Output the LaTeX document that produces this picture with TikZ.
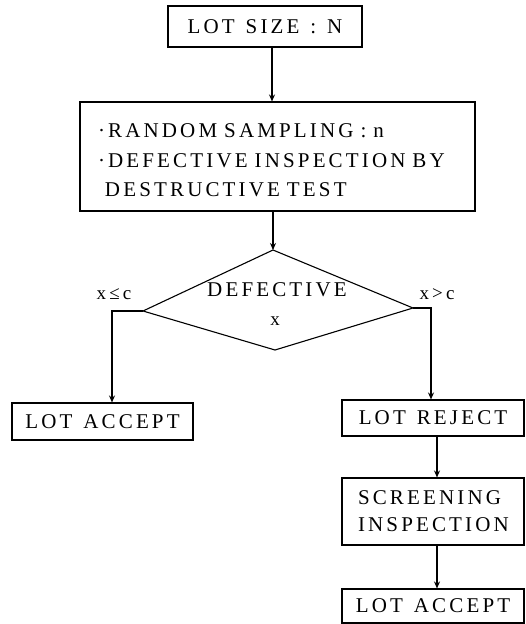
\documentclass[tikz,border=0pt]{standalone}
\usepackage{fontspec}
\setmainfont{Liberation Serif}[LetterSpace=15,WordSpace=1.3]
\usetikzlibrary{arrows.meta}
\begin{document}
\begin{tikzpicture}[x=1pt,y=-1pt,
  box/.style={draw, line width=1.1pt, inner sep=0pt, font=\fontsize{21}{29}\selectfont},
  lbl/.style={inner sep=0pt, font=\fontsize{19}{22}\selectfont},
  conn/.style={line width=1.1pt, -{Stealth[length=7pt,width=6pt]}}]
\useasboundingbox (0,0) rectangle (525,624);
\node[box, minimum width=194pt, minimum height=41pt] (size) at (265,26.5) {LOT SIZE : N};
\node[box, minimum width=395pt, minimum height=109pt] (samp) at (277.5,156.5) {};
\node[inner sep=0pt, text width=359pt, align=left, font=\fontsize{21}{29.5}\selectfont] (samptxt) at ([yshift=-4pt]samp.center)
  {·RANDOM SAMPLING : n\\ ·DEFECTIVE INSPECTION BY\\ \hphantom{·}DESTRUCTIVE TEST};
% decision diamond
\coordinate (dt) at (273,250);
\coordinate (dl) at (143,311);
\coordinate (dr) at (413,308);
\coordinate (db) at (275,350);
\draw[line width=1.1pt] (dt) -- (dr) -- (db) -- (dl) -- cycle;
\node[inner sep=0pt, font=\fontsize{21}{24}\selectfont] (dtxt) at (277,290) {DEFECTIVE};
\node[inner sep=0pt, font=\fontsize{19}{22}\selectfont] (xtxt) at (275,321) {x};
\node[box, minimum width=181pt, minimum height=37pt] (acc1) at (102.5,421.5) {LOT ACCEPT};
\node[box, minimum width=182pt, minimum height=36pt] (rej) at (433,418) {LOT REJECT};
\node[box, minimum width=182pt, minimum height=67pt, text width=150pt, align=left, font=\fontsize{21}{27}\selectfont] (scr) at (433,511.5) {SCREENING\\INSPECTION};
\node[box, minimum width=182pt, minimum height=34pt] (acc2) at (433,606) {LOT ACCEPT};
\node[lbl] (lle) at (114,294) {x\,≤\,c};
\node[lbl] (lgt) at (437,294) {x\,>\,c};
\coordinate (la) at (112,0);
\coordinate (ra) at ([xshift=-2pt]rej.north);
\draw[conn] (size.south -| 272,0) -- (samp.north -| 272,0);
\draw[conn] (samp.south -| dt) -- (dt);
\draw[conn] (dl) -| (la |- acc1.north);
\draw[conn] (dr) -| (ra);
\draw[conn] ([xshift=4pt]rej.south) -- ([xshift=4pt]scr.north);
\draw[conn] ([xshift=4pt]scr.south) -- ([xshift=4pt]acc2.north);
\end{tikzpicture}
\end{document}
